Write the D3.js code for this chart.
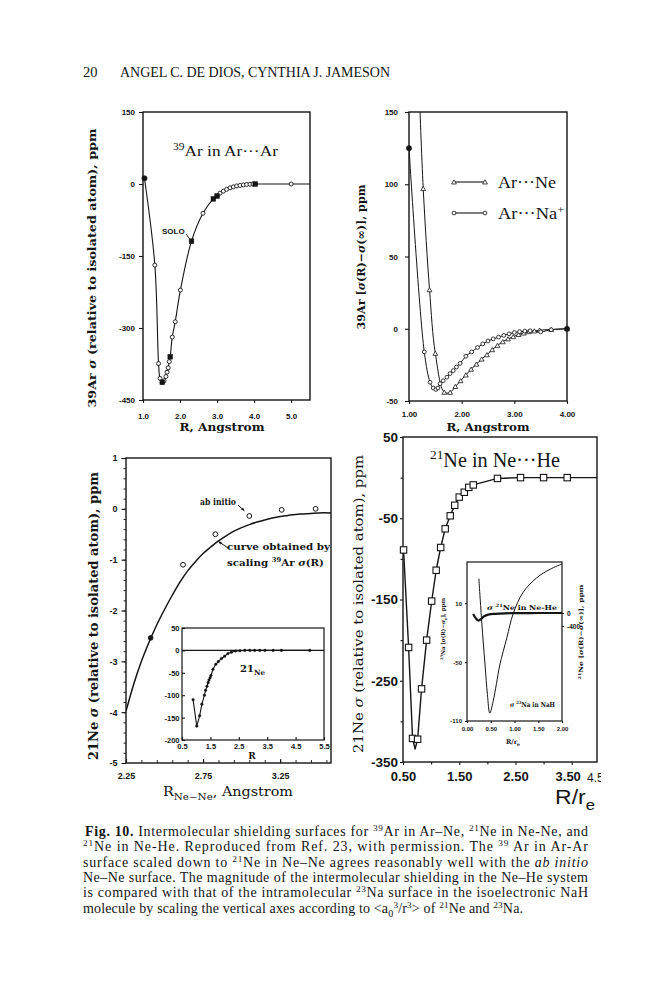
<!DOCTYPE html>
<html><head><meta charset="utf-8">
<script src="https://cdn.jsdelivr.net/npm/d3@7/dist/d3.min.js"></script>
<style>html,body{margin:0;padding:0;background:#fff}svg{display:block}</style>
</head><body>
<svg id="fig" width="666" height="1000" xmlns="http://www.w3.org/2000/svg"></svg>
<script>
// ---------------- data ----------------
// Top-left: 39Ar in Ar...Ar
const arArCircles = [[1.32,-169],[1.42,-374],[1.46,-405],[1.52,-413],[1.57,-410],[1.62,-401],[1.65,-392],[1.68,-383],[1.71,-370],[1.79,-319],[1.87,-287],[2.01,-221],[2.62,-61],[3.08,-19],[3.17,-15],[3.26,-11],[3.35,-8],[3.44,-6],[3.53,-4],[3.62,-3],[3.71,-2],[3.80,-1],[3.89,-0.5],[3.97,0],[5.0,0]];
const arArSquares = [[1.52,-413],[1.735,-360],[2.31,-119],[2.9,-31],[3.0,-25],[4.03,0]];
const arArFilled = [[1.04,12]];
const arArTail = [[5.51,0]];
const tlYTicks = [150,0,-150,-300,-450];
const tlXTicks = [1,2,3,4,5];

// Top-right: Ar...Ne and Ar...Na+
const arNeTriangles = [[1.2,160],[1.27,97],[1.39,27],[1.50,-17],[1.67,-44],[1.78,-44],[1.88,-40],[1.98,-36],[2.08,-32],[2.18,-28],[2.28,-24.5],[2.38,-21],[2.48,-18],[2.58,-14.5],[2.68,-11.5],[2.78,-9],[2.88,-7],[2.98,-5.5],[3.08,-4],[3.18,-3],[3.28,-2],[3.38,-1.5],[3.48,-1],[3.70,-0.5],[4.0,0]];
const arNaCircles = [[1.0,125],[1.29,-16],[1.40,-37],[1.46,-41],[1.51,-42],[1.55,-41],[1.59,-38],[1.65,-36],[1.72,-33.5],[1.78,-31],[1.84,-29],[1.90,-26.5],[1.97,-24],[2.08,-19],[2.19,-16],[2.30,-13],[2.40,-10.5],[2.50,-8.5],[2.60,-7],[2.70,-5.8],[2.80,-4.6],[2.90,-3.5],[3.00,-2.6],[3.10,-2],[3.20,-1.6],[3.30,-1.4],[3.50,-2.2],[3.70,-0.7],[4.0,0]];
const trYTicks = [150,100,50,0,-50];
const trXTicks = [1,2,3,4];
const legendNames = ["Ar···Ne","Ar···Na^{+}"];

// Bottom-left: 21Ne in Ne...Ne
const neNeCurve = [[2.25,-3.98],[2.30,-3.45],[2.35,-3.0],[2.40,-2.62],[2.45,-2.28],[2.50,-1.98],[2.55,-1.70],[2.60,-1.44],[2.65,-1.22],[2.70,-1.04],[2.75,-0.88],[2.80,-0.75],[2.85,-0.63],[2.90,-0.53],[2.95,-0.44],[3.00,-0.37],[3.05,-0.31],[3.10,-0.26],[3.15,-0.22],[3.20,-0.18],[3.25,-0.15],[3.30,-0.13],[3.35,-0.11],[3.40,-0.10],[3.45,-0.09],[3.50,-0.08],[3.58,-0.08]];
const neNeAbInitio = [[2.41,-2.54],[2.62,-1.10],[2.83,-0.50],[3.05,-0.14],[3.26,-0.02],[3.48,0.0]];
const blYTicks = [1,0,-1,-2,-3,-4,-5];
const blXTicks = [2.25,2.75,3.25];
const neNeInset = [[0.89,-110],[1.02,-169],[1.12,-146],[1.20,-120],[1.29,-100],[1.33,-89],[1.38,-80],[1.42,-72],[1.45,-66],[1.49,-61],[1.52,-56],[1.59,-42],[1.69,-31],[1.78,-25],[1.89,-18],[2.00,-13],[2.12,-7],[2.24,-4],[2.39,-1.5],[2.54,-0.7],[2.71,0],[2.89,0],[3.06,0],[3.24,0],[3.42,0],[3.71,0],[4.0,0],[5.0,0]];
const blInsetYTicks = [50,0,-50,-100,-150,-200];
const blInsetXTicks = [0.5,1.5,2.5,3.5,4.5,5.5];

// Bottom-right: 21Ne in Ne...He
const neHeSquares = [[0.51,-89],[0.60,-209],[0.67,-321],[0.76,-322],[0.83,-260],[0.92,-200],[1.01,-152],[1.09,-114],[1.17,-86],[1.25,-63],[1.34,-47],[1.42,-34],[1.50,-24],[1.59,-18],[1.67,-12],[1.75,-9],[2.18,-1],[2.59,0],[3.0,0],[3.42,0]];
const neHeMin = [[0.715,-334]];
const neHeTail = [[3.95,0]];
const brYTicks = [50,-50,-150,-250,-350];
const brXTicks = [0.5,1.5,2.5,3.5];
const naHInset = [[0.25,35],[0.31,-9],[0.38,-53],[0.43,-83],[0.48,-102],[0.55,-90],[0.62,-72],[0.69,-53],[0.84,-25],[0.97,-1],[1.18,21],[1.47,36],[1.75,44.6],[2.0,50]];
const neHeInset = [[0.13,-30],[0.18,-150],[0.24,-235],[0.30,-180],[0.36,-100],[0.45,-50],[0.60,-25],[0.80,-10],[1.0,-5],[1.5,0],[2.0,0]];
const brInsetLeftTicks = [10,-50,-110];
const brInsetRightTicks = [0,-400];
const brInsetXTicks = [0,0.5,1,1.5,2];

const headerText = ["20","ANGEL C. DE DIOS, CYNTHIA J. JAMESON"];
const captionLines = [
 "**Fig. 10.** Intermolecular shielding surfaces for ^{39}Ar in Ar–Ne, ^{21}Ne in Ne-Ne, and",
 "^{21}Ne in Ne-He. Reproduced from Ref. 23, with permission. The ^{39} Ar in Ar-Ar",
 "surface scaled down to ^{21}Ne in Ne–Ne agrees reasonably well with the *ab initio*",
 "Ne–Ne surface. The magnitude of the intermolecular shielding in the Ne–He system",
 "is compared with that of the intramolecular ^{23}Na surface in the isoelectronic NaH",
 "molecule by scaling the vertical axes according to <a_{0}^{3}/r^{3}> of ^{21}Ne and ^{23}Na."
];

// ---------------- drawing ----------------
const svg = d3.select("#fig");
const INK = "#151515";
const SANS = "'Liberation Sans', Arial, sans-serif";
const SERIF = "'Liberation Serif', 'Times New Roman', serif";
const DSERIF = "'DejaVu Serif', serif";
svg.append("rect").attr("width",666).attr("height",1000).attr("fill","#fff");

function panel(id,x0,x1,y0,y1,xd,yd){
  const p = {x:d3.scaleLinear().domain(xd).range([x0,x1]), y:d3.scaleLinear().domain(yd).range([y1,y0]), x0,x1,y0,y1};
  svg.append("clipPath").attr("id",id).append("rect").attr("x",x0).attr("y",y0).attr("width",x1-x0).attr("height",y1-y0);
  p.clip = `url(#${id})`;
  return p;
}
function frame(p,sw=1.4,fill="none"){
  svg.append("rect").attr("x",p.x0).attr("y",p.y0).attr("width",p.x1-p.x0).attr("height",p.y1-p.y0)
    .attr("fill",fill).attr("stroke",INK).attr("stroke-width",sw);
}
function axis(kind,scale,tx,ty,values,o={}){
  const fmt = o.fmt || (d=>String(d));
  const gen = {left:d3.axisLeft,right:d3.axisRight,bottom:d3.axisBottom}[kind](scale)
    .tickValues(values).tickSize(o.size ?? 4).tickPadding(o.pad ?? 3).tickFormat(fmt);
  const g = svg.append("g").attr("transform",`translate(${tx},${ty})`).call(gen);
  g.select(".domain").remove();
  g.attr("font-family",o.family||SANS).attr("font-size",o.fs||8).attr("font-weight",o.weight||"bold");
  g.selectAll("line").attr("stroke",INK).attr("stroke-width",o.sw||1.1);
  g.selectAll("text").attr("fill",INK);
  if(o.noLabels) g.selectAll("text").remove();
  return g;
}
function rich(t,str,fs){
  const parts = str.split(/(\^\{[^}]*\}|_\{[^}]*\}|\*\*[^*]+\*\*|\*[^*]+\*)/).filter(s=>s.length);
  let shift = 0;
  parts.forEach(p=>{
    const s = t.append("tspan");
    let target = 0, content = p, size = null;
    if(p.startsWith("^{")){content=p.slice(2,-1);target=-0.38*fs;size=0.66*fs;}
    else if(p.startsWith("_{")){content=p.slice(2,-1);target=0.28*fs;size=0.72*fs;}
    else if(p.startsWith("**")){content=p.slice(2,-2);s.attr("font-weight","bold");}
    else if(p.startsWith("*")){content=p.slice(1,-1);s.attr("font-style","italic");}
    if(target-shift!==0) s.attr("dy",target-shift);
    shift = target;
    if(size) s.attr("font-size",size);
    s.text(content);
  });
  return t;
}
function label(x,y,str,o={}){
  const fs = o.fs||10;
  const t = svg.append("text").attr("x",x).attr("y",y).attr("font-size",fs)
    .attr("font-family",o.family||SERIF).attr("font-weight",o.weight||"normal")
    .attr("text-anchor",o.anchor||"start").attr("fill",INK);
  if(o.rot) t.attr("transform",`rotate(-90,${x},${y})`);
  rich(t,str,fs);
  if(o.len) t.attr("textLength",o.len).attr("lengthAdjust",o.adjust||"spacingAndGlyphs");
  if(o.clip) t.attr("clip-path",o.clip);
  return t;
}
const lineGen = (p,c=d3.curveCatmullRom.alpha(0.5)) => d3.line().x(d=>p.x(d[0])).y(d=>p.y(d[1])).curve(c);
const byX = arr => d3.sort(arr,d=>d[0]).filter((d,i,a)=>i===0||d[0]!==a[i-1][0]);
function path(p,data,sw=1.1,clip=true,c){
  const el = svg.append("path").attr("d",lineGen(p,c)(data)).attr("fill","none").attr("stroke",INK).attr("stroke-width",sw).attr("stroke-linejoin","round");
  if(clip) el.attr("clip-path",p.clip);
  return el;
}
const inside = (p,d) => { const [a,b]=p.x.domain(), [c,e]=p.y.domain(); return d[0]>=a-1e-9&&d[0]<=b+1e-9&&d[1]>=c-1e-9&&d[1]<=e+1e-9; };
function circles(p,data,r,fill,sw=0.9){
  svg.append("g").selectAll("circle").data(data.filter(d=>inside(p,d))).join("circle")
    .attr("cx",d=>p.x(d[0])).attr("cy",d=>p.y(d[1])).attr("r",r)
    .attr("fill",fill).attr("stroke",INK).attr("stroke-width",sw);
}
function squares(p,data,s,fill,sw=1){
  svg.append("g").selectAll("rect").data(data.filter(d=>inside(p,d))).join("rect")
    .attr("x",d=>p.x(d[0])-s/2).attr("y",d=>p.y(d[1])-s/2).attr("width",s).attr("height",s)
    .attr("fill",fill).attr("stroke",INK).attr("stroke-width",sw);
}
function triangles(p,data,size){
  const sym = d3.symbol(d3.symbolTriangle,size);
  svg.append("g").selectAll("path").data(data.filter(d=>inside(p,d))).join("path")
    .attr("d",sym).attr("transform",d=>`translate(${p.x(d[0])},${p.y(d[1])+0.6})`)
    .attr("fill","#fff").attr("stroke",INK).attr("stroke-width",0.8);
}
function arrow(x1,y1,x2,y2){
  svg.append("line").attr("x1",x1).attr("y1",y1).attr("x2",x2).attr("y2",y2).attr("stroke",INK).attr("stroke-width",1);
  const a = Math.atan2(y2-y1,x2-x1), L=3.5;
  const pts = [[x2,y2],[x2-L*Math.cos(a-0.45),y2-L*Math.sin(a-0.45)],[x2-L*Math.cos(a+0.45),y2-L*Math.sin(a+0.45)]];
  svg.append("polygon").attr("points",pts.map(q=>q.join(",")).join(" ")).attr("fill",INK);
}

// ----- header -----
label(83,77,headerText[0],{fs:14.5,family:SERIF});
label(120,77,headerText[1],{fs:14,family:SERIF,len:270,adjust:"spacing"});

// ----- top-left panel -----
const TL = panel("cTL",143,310,112,400,[1,5.51],[-450,150]);
frame(TL);
axis("left",TL.y,TL.x0,0,tlYTicks,{size:4,pad:4,fs:8});
axis("bottom",TL.x,0,TL.y1,tlXTicks,{size:3,pad:10,fs:8,fmt:d=>d.toFixed(1)});
path(TL,byX([...arArFilled,...arArCircles,...arArSquares,...arArTail]),1.1);
circles(TL,arArCircles,2.0,"#fff",0.9);
squares(TL,arArSquares,4.6,INK,0.6);
circles(TL,arArFilled,2.6,INK,0.6);
label(173,156,"^{39}Ar in Ar···Ar",{fs:15,family:SERIF,len:105});
label(162,234,"SOLO",{fs:8,family:SANS,weight:"bold"});
svg.append("line").attr("x1",186).attr("y1",234).attr("x2",TL.x(arArSquares[2][0])-1).attr("y2",TL.y(arArSquares[2][1])-1).attr("stroke",INK).attr("stroke-width",0.9);
label(96,268,"39Ar *σ* (relative to isolated atom), ppm",{fs:11.5,family:DSERIF,weight:"bold",rot:true,anchor:"middle",len:279});
label(222,431,"R, Angstrom",{fs:11,family:DSERIF,weight:"bold",anchor:"middle",len:85});

// ----- top-right panel -----
const TR = panel("cTR",409,567,112,401,[1,4],[-50,150]);
frame(TR);
axis("left",TR.y,TR.x0,0,trYTicks,{size:4,pad:7,fs:8});
axis("bottom",TR.x,0,TR.y1,trXTicks,{size:3,pad:7,fs:8,fmt:d=>d.toFixed(2)});
path(TR,byX(arNaCircles),1.0);
path(TR,byX(arNeTriangles),1.0);
triangles(TR,arNeTriangles,10);
circles(TR,arNaCircles.slice(1,-1),1.9,"#fff",0.85);
circles(TR,[arNaCircles[0],arNaCircles[arNaCircles.length-1]],2.6,INK,0.6);
// legend
[[182,"tri"],[213,"circ"]].forEach(([ly,kind],i)=>{
  svg.append("line").attr("x1",454).attr("x2",485).attr("y1",ly).attr("y2",ly).attr("stroke",INK).attr("stroke-width",1.1);
  [454,485].forEach(lx=>{
    if(kind==="tri") svg.append("path").attr("d",d3.symbol(d3.symbolTriangle,10)()).attr("transform",`translate(${lx},${ly+0.6})`).attr("fill","#fff").attr("stroke",INK).attr("stroke-width",0.8);
    else svg.append("circle").attr("cx",lx).attr("cy",ly).attr("r",1.9).attr("fill","#fff").attr("stroke",INK).attr("stroke-width",0.85);
  });
  label(498,ly+6,legendNames[i],{fs:17,family:SERIF,len:i?66:58});
});
label(365,257,"39Ar [*σ*(R)−*σ*(∞)], ppm",{fs:11.5,family:DSERIF,weight:"bold",rot:true,anchor:"middle",len:145});
label(488,431,"R, Angstrom",{fs:11,family:DSERIF,weight:"bold",anchor:"middle",len:83});

// ----- bottom-left panel -----
const BL = panel("cBL",126,331,458,763,[2.25,3.58],[-5,1]);
frame(BL);
axis("left",BL.y,BL.x0,0,d3.range(-5,1.001,0.2),{size:2.5,noLabels:true,sw:0.9});
axis("left",BL.y,BL.x0,0,blYTicks,{size:4.5,pad:4,fs:9});
axis("bottom",BL.x,0,BL.y1,d3.range(2.25,3.58,0.1),{size:-3,noLabels:true,sw:0.9});
axis("bottom",BL.x,0,BL.y1,blXTicks,{size:-4,pad:10,fs:9,fmt:d=>d.toFixed(2)});
path(BL,neNeCurve,1.5);
circles(BL,neNeAbInitio.slice(1),2.4,"#fff",1.0);
circles(BL,neNeAbInitio.slice(0,1),2.4,INK,0.8);
label(200,505,"ab initio",{fs:10,family:DSERIF,weight:"bold",len:36});
arrow(238,505,BL.x(3.018),BL.y(-0.04));
label(227,550,"curve obtained by",{fs:10,family:DSERIF,weight:"bold",len:103});
label(227,566,"scaling ^{39}Ar *σ*(R)",{fs:10,family:DSERIF,weight:"bold",len:97});
arrow(228,548,BL.x(2.83)+3,BL.y(-0.68)-2);
label(98,616,"21Ne *σ* (relative to isolated atom), ppm",{fs:12,family:DSERIF,weight:"bold",rot:true,anchor:"middle",len:288});
label(163,796,"R_{Ne−Ne}, Angstrom",{fs:13,family:DSERIF,weight:"normal",len:130});

// inset of bottom-left
const BLi = panel("cBLi",182,324,628,740,[0.5,5.5],[-200,50]);
frame(BLi,1.2,"#fff");
axis("left",BLi.y,BLi.x0,0,blInsetYTicks,{size:-3,pad:2.5,fs:7.5});
axis("bottom",BLi.x,0,BLi.y1,blInsetXTicks,{size:-3,pad:3.5,fs:7.5,fmt:d=>d.toFixed(1)});
svg.append("line").attr("x1",BLi.x0).attr("x2",BLi.x1).attr("y1",BLi.y(0)).attr("y2",BLi.y(0)).attr("stroke",INK).attr("stroke-width",1.3);
path(BLi,neNeInset,1.1,true,d3.curveLinear);
circles(BLi,neNeInset,1.3,INK,0.4);
label(240,672,"21_{Ne}",{fs:10,family:DSERIF,weight:"bold"});
label(252,759,"R",{fs:9,family:DSERIF,weight:"bold",anchor:"middle"});

// ----- bottom-right panel -----
const BR = panel("cBR",403,597,437,762,[0.5,3.95],[-350,50]);
frame(BR);
axis("left",BR.y,BR.x0,0,[0,-100,-200,-300],{size:2.5,noLabels:true});
axis("left",BR.y,BR.x0,0,brYTicks,{size:3,pad:2,fs:13.5});
axis("bottom",BR.x,0,BR.y1,[1,2,3],{size:2.5,noLabels:true});
const brx = axis("bottom",BR.x,0,BR.y1,brXTicks,{size:3,pad:7,fs:13,fmt:d=>d.toFixed(2)});
brx.selectAll(".tick text").filter(d=>d===3.5).attr("dx",-4);
svg.append("clipPath").attr("id","cBRlab").append("rect").attr("x",586).attr("y",760).attr("width",15).attr("height",40);
label(587,782,"4.50",{fs:12,family:SANS,clip:"url(#cBRlab)"});
path(BR,byX([...neHeSquares,...neHeMin,...neHeTail]),1.4,true,d3.curveLinear);
squares(BR,neHeSquares,6.4,"#fff",1.1);
label(430,467,"^{21}Ne in Ne···He",{fs:20,family:SERIF,len:130});
label(363,604,"21Ne *σ* (relative to isolated atom), ppm",{fs:13,family:DSERIF,weight:"normal",rot:true,anchor:"middle",len:298});
label(555,804,"R/r_{e}",{fs:20,family:SANS,len:40});

// inset of bottom-right
const BRi = panel("cBRi",467,562,562,721,[0,2],[-110,52]);
const BRiR = d3.scaleLinear().domain([-400,0]).range([626,613]);
frame(BRi,1.2,"#fff");
axis("left",BRi.y,BRi.x0,0,brInsetLeftTicks,{size:2,pad:3,fs:6});
axis("right",BRiR,BRi.x1,0,brInsetRightTicks,{size:2,pad:3,fs:6.5});
axis("bottom",BRi.x,0,BRi.y1,brInsetXTicks,{size:2,pad:3.5,fs:6,fmt:d=>d.toFixed(2)});
path(BRi,naHInset,1.0);
svg.append("path").attr("d",d3.line().x(d=>BRi.x(d[0])).y(d=>BRiR(d[1])).curve(d3.curveCatmullRom.alpha(0.5))(neHeInset))
  .attr("fill","none").attr("stroke",INK).attr("stroke-width",2.2).attr("clip-path",BRi.clip);
label(487,610,"*σ* ^{21}Ne in Ne-He",{fs:6.8,family:DSERIF,weight:"bold",len:70});
label(510,707,"*σ* ^{23}Na in NaH",{fs:6.8,family:DSERIF,weight:"bold",len:45});
label(513,744,"R/r_{e}",{fs:6.5,family:DSERIF,weight:"bold",anchor:"middle"});
label(445,629,"^{23}Na [*σ*(R)−*σ*_{e}], ppm",{fs:5.5,family:DSERIF,weight:"bold",rot:true,anchor:"middle",len:62});
label(583,632,"^{21}Ne [*σ*(R)−*σ*(∞)], ppm",{fs:6,family:DSERIF,weight:"bold",rot:true,anchor:"middle",len:95});

// ----- caption -----
const capY = [836,851,867,882,897,913];
captionLines.forEach((s,i)=>{
  label(i===0?85:83,capY[i],s,{fs:14,family:SERIF,len:i===5?440:(i===0?503:505),adjust:"spacing"});
});
</script>
</body></html>
